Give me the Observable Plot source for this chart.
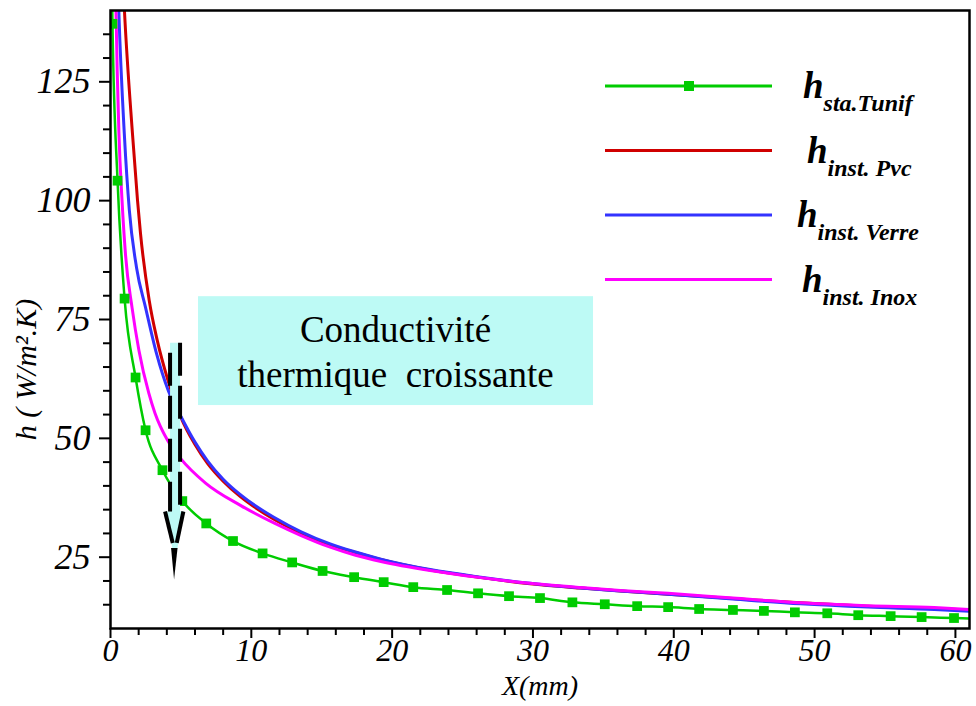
<!DOCTYPE html>
<html>
<head>
<meta charset="utf-8">
<script src="https://cdn.jsdelivr.net/npm/d3@7"></script>
<script src="https://cdn.jsdelivr.net/npm/@observablehq/plot@0.6"></script>
<style>
  body { margin: 0; background: #fff; }
  #chart { position: relative; width: 976px; height: 706px; }
</style>
</head>
<body>
<div id="chart"></div>
<script>
// ---- Data ----
// h stationnaire, T uniforme (green, square markers)
const greenX = [0.14, 0.5, 1.0, 1.78, 2.49, 3.69, 5.1, 6.8, 8.7, 10.8, 12.9, 15.06, 17.3, 19.4, 21.5, 23.9, 26.1, 28.3, 30.5, 32.8, 35.1, 37.4, 39.6, 41.8, 44.2, 46.4, 48.6, 50.9, 53.1, 55.4, 57.6, 59.9];
const greenY = [137.2, 104.2, 79.4, 62.8, 51.7, 43.3, 36.8, 32.1, 28.4, 25.8, 23.9, 22.1, 20.8, 19.75, 18.7, 18.1, 17.4, 16.8, 16.4, 15.5, 15.1, 14.7, 14.5, 14.1, 13.9, 13.7, 13.4, 13.2, 12.8, 12.6, 12.4, 12.2];
// line-only points of the green curve (before the first / after the last marker)
const greenLineX = [0.08, 61];
const greenLineY = [150, 12.1];

// h instationnaire, PVC (red)
const pvcX = [0.8, 0.99, 1.56, 1.92, 2.13, 2.75, 3.32, 4.08, 5.03, 6.0, 6.9, 8.0, 9.2, 10.4, 11.6, 13.5, 15.6, 17.4, 19.2, 22.7, 26.3, 29.8, 33.4, 36.2, 39.6, 44.2, 49.0, 53.8, 58.5, 61];
const pvcY = [152, 140, 114.1, 100, 93.1, 79, 70.6, 62.2, 54.2, 48.7, 44.7, 41.0, 37.8, 35.2, 33.0, 30.1, 27.6, 26.0, 24.5, 22.3, 20.7, 19.4, 18.5, 17.9, 17.2, 16.3, 15.4, 14.7, 14.2, 13.9];

// h instationnaire, Verre (blue)
const verreX = [0.47, 0.59, 0.98, 1.34, 1.85, 2.49, 3.27, 4.12, 5.0, 6.0, 6.9, 8.0, 9.2, 10.4, 11.6, 13.5, 15.6, 17.4, 19.2, 22.7, 26.3, 29.8, 33.4, 36.2, 39.6, 44.2, 49.0, 53.8, 58.5, 61];
const verreY = [152, 140, 114.1, 97.9, 85.9, 77.5, 67.8, 59.9, 54.6, 49.2, 45.2, 41.4, 38.2, 35.6, 33.4, 30.4, 27.8, 26.1, 24.6, 22.4, 20.8, 19.5, 18.5, 17.9, 17.2, 16.2, 15.2, 14.5, 14.0, 13.6];

// h instationnaire, Inox (magenta)
const inoxX = [0.33, 0.39, 0.6, 0.82, 1.07, 1.53, 2.02, 2.72, 3.16, 4.05, 4.97, 6.75, 9.23, 11.6, 13.5, 15.6, 17.4, 19.2, 22.7, 26.3, 29.8, 33.4, 36.2, 39.6, 44.2, 49.0, 53.8, 58.5, 61];
const inoxY = [152, 140, 114.1, 100, 88.5, 77.5, 68.5, 59.5, 55.3, 49.6, 45.8, 40.6, 35.9, 32.2, 29.6, 27.1, 25.4, 24.1, 22.2, 20.7, 19.5, 18.6, 18.0, 17.4, 16.4, 15.4, 14.8, 14.4, 14.0];

// axes
const xTicks = [0, 10, 20, 30, 40, 50, 60];
const xMinorTicks = [2, 4, 6, 8, 12, 14, 16, 18, 22, 24, 26, 28, 32, 34, 36, 38, 42, 44, 46, 48, 52, 54, 56, 58];
const yTicks = [25, 50, 75, 100, 125];
const yMinorTicks = [15, 20, 30, 35, 40, 45, 55, 60, 65, 70, 80, 85, 90, 95, 105, 110, 115, 120, 130, 135];
const xLabel = "X(mm)";
const yLabel = "h ( W/m².K)";

// legend
const legendMain = ["h", "h", "h", "h"];
const legendSub = ["sta.Tunif", "inst. Pvc", "inst. Verre", "inst. Inox"];
const colors = ["#00cc00", "#d00000", "#3333ff", "#ff00ff"];

// annotation
const boxText = ["Conductivité", "thermique\u00a0 croissante"];
const boxX = [6.25, 34.3];
const boxY = [56.9, 79.8];
const arrowX = 4.62;
const arrowY = [70, 34.5, 27.9, 20.2]; // top, shaft end, dashed head end, tip

// ---- build tables ----
const toRows = (xs, ys) => xs.map((x, i) => ({x, y: ys[i]}));
const greenMarks = toRows(greenX, greenY);
const greenLine = toRows(greenX.concat(greenLineX), greenY.concat(greenLineY)).sort((a, b) => a.x - b.x);
const pvc = toRows(pvcX, pvcY);
const verre = toRows(verreX, verreY);
const inox = toRows(inoxX, inoxY);

const font = "Liberation Serif";

const plot = Plot.plot({
  width: 976,
  height: 706,
  marginLeft: 110,
  marginRight: 7,
  marginTop: 10,
  marginBottom: 78,
  style: {fontFamily: font, background: "white", color: "black"},
  x: {domain: [0, 61]},
  y: {domain: [10, 140]},
  marks: [
    Plot.rect([{x1: boxX[0], x2: boxX[1], y1: boxY[0], y2: boxY[1]}], {x1: "x1", x2: "x2", y1: "y1", y2: "y2", fill: "#bdfaf5"}),
    Plot.line(pvc, {x: "x", y: "y", stroke: colors[1], strokeWidth: 3, curve: "monotone-x", clip: true}),
    Plot.line(verre, {x: "x", y: "y", stroke: colors[2], strokeWidth: 3, curve: "monotone-x", clip: true}),
    Plot.line(inox, {x: "x", y: "y", stroke: colors[3], strokeWidth: 3, curve: "monotone-x", clip: true}),
    Plot.line(greenLine, {x: "x", y: "y", stroke: colors[0], strokeWidth: 2.5, curve: "monotone-x", clip: true}),
    Plot.dot(greenMarks, {x: "x", y: "y", symbol: "square", r: 5.5, fill: colors[0], stroke: "none", clip: true}),
    Plot.frame({stroke: "black", strokeWidth: 2.5}),
    Plot.axisY(yTicks, {tickSize: 11, tickPadding: 9, fontSize: 36, fontStyle: "italic", fontFamily: font, label: null, strokeWidth: 2, tickFormat: d => String(d)}),
    Plot.axisY(yMinorTicks, {tickSize: 7, label: null, strokeWidth: 2, tickFormat: () => ""}),
    Plot.axisX(xTicks, {tickSize: 10, tickPadding: 0, fontSize: 32, fontStyle: "italic", fontFamily: font, label: null, strokeWidth: 2, tickFormat: d => String(d)}),
    Plot.axisX(xMinorTicks, {tickSize: 7, label: null, strokeWidth: 2, tickFormat: () => ""}),
    Plot.text([xLabel], {frameAnchor: "bottom", dy: 66, fontSize: 28, fontStyle: "italic", fontFamily: font, fill: "black"}),
    Plot.text([yLabel], {frameAnchor: "left", y: () => 64.5, dx: -84, rotate: -90, textAnchor: "middle", fontSize: 30, fontStyle: "italic", fontFamily: font, fill: "black"})
  ]
});
document.getElementById("chart").appendChild(plot);

// ---- annotations & legend drawn in the plot's coordinate system ----
const svg = d3.select(plot);
const sx = v => plot.scale("x").apply(v);
const sy = v => plot.scale("y").apply(v);

// box text
const bx = (sx(boxX[0]) + sx(boxX[1])) / 2;
const bTop = sy(boxY[1]);
boxText.forEach((t, i) => {
  svg.append("text").attr("x", bx).attr("y", bTop + 46 + i * 45).attr("text-anchor", "middle")
    .attr("font-family", font).attr("font-size", 37).attr("fill", "black").text(t);
});

// dashed arrow
const ax = sx(arrowX);
const aTop = sy(arrowY[0]), aShaft = sy(arrowY[1]), aHead = sy(arrowY[2]), aTip = sy(arrowY[3]);
const ag = svg.append("g");
ag.append("path")
  .attr("d", `M${ax - 5},${aTop} L${ax + 5},${aTop} L${ax + 5},${aShaft} L${ax + 9},${aShaft} L${ax},${aTip - 18} L${ax - 10},${aShaft} L${ax - 5},${aShaft} Z`)
  .attr("fill", "#bdfaf5");
const dash = (x1, y1, x2, y2) => ag.append("line").attr("x1", x1).attr("y1", y1).attr("x2", x2).attr("y2", y2)
  .attr("stroke", "black").attr("stroke-width", 4).attr("stroke-dasharray", "33,10");
dash(ax - 5, aTop + 10, ax - 5, aShaft);
dash(ax + 5, aTop, ax + 5, aShaft);
dash(ax - 10, aShaft, ax - 2.3, aHead);
dash(ax + 8.3, aShaft, ax + 1.7, aHead);
ag.append("path").attr("d", `M${ax - 4},${aHead + 5} L${ax + 2.5},${aHead + 5} L${ax - 1},${aTip} Z`).attr("fill", "black");

// legend
const lg = svg.append("g");
const legX = [803, 807, 797, 802];
legendSub.forEach((s, i) => {
  const ly = 86 + i * 64.5;
  lg.append("line").attr("x1", 605).attr("x2", 772).attr("y1", ly).attr("y2", ly)
    .attr("stroke", colors[i]).attr("stroke-width", 3);
  if (i === 0) {
    lg.append("rect").attr("x", 684).attr("y", ly - 5).attr("width", 10).attr("height", 10).attr("fill", colors[0]);
  }
  const t = lg.append("text").attr("x", legX[i]).attr("y", ly + 12).attr("text-anchor", "start")
    .attr("font-family", font).attr("font-weight", "bold").attr("font-style", "italic").attr("fill", "black");
  t.append("tspan").attr("font-size", 37).text(legendMain[i]);
  t.append("tspan").attr("font-size", 24).attr("dy", 13).text(s);
});
</script>
</body>
</html>
